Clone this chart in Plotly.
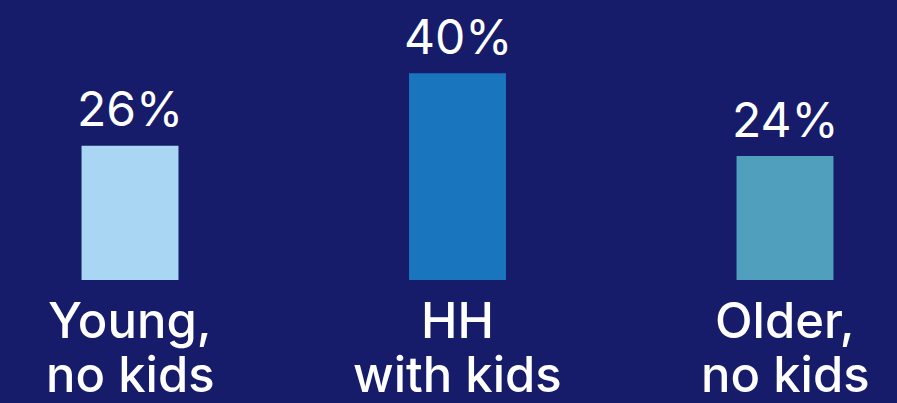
import plotly.graph_objects as go

categories = ["Young, no kids", "HH with kids", "Older, no kids"]
label_lines = [["Young,", "no kids"], ["HH", "with kids"], ["Older,", "no kids"]]
shares = [26, 40, 24]
bar_colors = ["#a9d7f3", "#1976be", "#509fbd"]

BG = "#161c6a"
FONT = "Inter"

fig = go.Figure(
    go.Bar(
        x=categories,
        y=shares,
        marker=dict(color=bar_colors, line=dict(width=0)),
        width=0.296,
        hoverinfo="skip",
    )
)

annotations = []
for cat, val in zip(categories, shares):
    annotations.append(dict(
        x=cat, y=val, xref="x", yref="y",
        text=f"{val}%", showarrow=False,
        yanchor="middle", yshift=37,
        font=dict(family=FONT, size=48, color="white", weight=400),
    ))
# two-line category captions under each bar
line_offsets = [-40.5, -94.5]
for cat, lines in zip(categories, label_lines):
    for line, off in zip(lines, line_offsets):
        annotations.append(dict(
            x=cat, y=0, xref="x", yref="y",
            text=line, showarrow=False,
            yanchor="middle", yshift=off,
            font=dict(family=FONT, size=49, color="white", weight=500),
        ))

fig.update_layout(
    width=897, height=403,
    margin=dict(l=0, r=0, t=0, b=0),
    paper_bgcolor=BG, plot_bgcolor=BG,
    showlegend=False,
    xaxis=dict(range=[-0.397, 2.342], visible=False, type="category"),
    yaxis=dict(range=[-23.8, 54.2], visible=False),
    annotations=annotations,
)

fig.write_html("out.html")
